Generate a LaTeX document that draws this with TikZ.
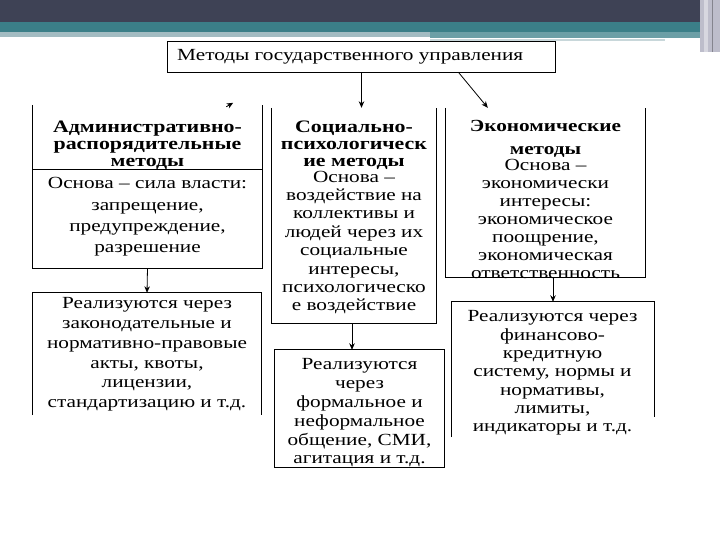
\documentclass[tikz,border=0pt]{standalone}
\usepackage{fontspec}
\setmainfont{Liberation Serif}[FakeStretch=1.25]
\usetikzlibrary{arrows.meta,fit,calc}
\definecolor{bardark}{HTML}{3E4255}
\definecolor{barteal}{HTML}{3B7F88}
\definecolor{barlight}{HTML}{A3BCC2}
\definecolor{barside}{HTML}{BDBDCB}
\tikzset{
  area/.style={inner sep=0pt, draw=none},
  edge/.style={line width=1pt, draw=black},
  arr/.style={line width=0.8pt, -{Stealth[length=6.5pt,width=5.5pt]}},
  txt/.style={align=center, inner sep=0pt, text=black},
  hdr/.style={txt, font=\bfseries\fontsize{17.5}{17}\selectfont},
}
\begin{document}
\begin{tikzpicture}[x=1pt,y=-1pt]
\useasboundingbox (0,0) rectangle (720,540);
\fill[white] (0,0) rectangle (720,540);
% top decoration
\fill[bardark] (0,0) rectangle (720,22);
\fill[barteal] (0,22) rectangle (700,32);
\fill[barlight] (0,32) rectangle (430,37);
\fill[barteal!75!white] (430,32) rectangle (700,38);
\fill[barlight!60!white] (430,39) rectangle (665,41);
\fill[barside] (700,0) rectangle (720,52);
\fill[barside!60!white] (704,0) rectangle (708,52);
\fill[barside!70!black] (712,0) rectangle (713,52);

% corner coordinates
\coordinate (tnw) at (168,42);  \coordinate (tse) at (555,72);
\coordinate (a1nw) at (33,105); \coordinate (a1se) at (262,268);
\coordinate (a2nw) at (33,293); \coordinate (a2se) at (261,415);
\coordinate (b1nw) at (272,108);\coordinate (b1se) at (436,323);
\coordinate (b2nw) at (275,350);\coordinate (b2se) at (444,467);
\coordinate (c1nw) at (446,108);\coordinate (c1se) at (645,277);
\coordinate (c2nw) at (452,302);\coordinate (c2se) at (654,417);

\node[area, fit=(tnw)(tse)] (title) {};
\node[area, fit=(a1nw)(a1se)] (a1) {};
\node[area, fit=(a2nw)(a2se)] (a2) {};
\node[area, fit=(b1nw)(b1se)] (b1) {};
\node[area, fit=(b2nw)(b2se)] (b2) {};
\node[area, fit=(c1nw)(c1se)] (c1) {};
\node[area, fit=(c2nw)(c2se)] (c2) {};

% box outlines
\draw[edge] (title.north west) rectangle (title.south east);
\draw[edge] (a1.north west) -- (a1.south west) -- (a1.south east) -- (a1.north east);
\draw[edge] (a1.west |- 0,170) -- (a1.east |- 0,170);
\draw[edge] (a2.south west) -- (a2.north west) -- (a2.north east) -- (a2.south east);
\draw[edge] (b1.north west) -- (b1.south west) -- (b1.south east) -- (b1.north east);
\draw[edge] (b2.north west) rectangle (b2.south east);
\draw[edge] (c1.north west) -- (c1.south west) -- (c1.south east) -- (c1.north east);
\draw[edge] ($(c2.south west)+(0,20)$) -- (c2.north west) -- (c2.north east) -- (c2.south east);

% texts
\node[txt, anchor=west, font=\fontsize{17}{20}\selectfont] (titletext) at (177,57) {Методы государственного управления};

\node[hdr] (a1h) at (147.5,145) {Административно-\\распорядительные\\методы};
\node[txt, font=\fontsize{17}{21.3}\selectfont] (a1t) at (147.5,217) {Основа – сила власти:\\запрещение,\\предупреждение,\\разрешение};
\node[txt, font=\fontsize{17}{19.8}\selectfont] (a2t) at (147,354.5) {Реализуются через\\законодательные и\\нормативно-правовые\\акты, квоты,\\лицензии,\\стандартизацию и т.д.};

\node[hdr] (b1h) at (354,145) {Социально-\\психологическ\\ие методы};
\node[txt, font=\fontsize{17}{18.4}\selectfont] (b1t) at (354,242.5) {Основа –\\воздействие на\\коллективы и\\людей через их\\социальные\\интересы,\\психологическо\\е воздействие};
\node[txt, font=\fontsize{17}{18.8}\selectfont] (b2t) at (359.5,413) {Реализуются\\через\\формальное и\\неформальное\\общение, СМИ,\\агитация и т.д.};

\node[txt, font=\bfseries\fontsize{17}{23}\selectfont] (c1h) at (545.5,138.5) {Экономические\\методы};
\node[txt, font=\fontsize{17}{18}\selectfont] (c1t) at (545.5,219) {Основа –\\экономически\\интересы:\\экономическое\\поощрение,\\экономическая\\ответственность};
\node[txt, font=\fontsize{17}{18.3}\selectfont] (c2t) at (552.5,373) {Реализуются через\\финансово-\\кредитную\\систему, нормы и\\нормативы,\\лимиты,\\индикаторы и т.д.};

% connectors
\draw[arr] (title.south) -- (title.south |- b1.north);
\draw[arr] ($(title.south west)!0.75!(title.south east)$) -- ($(c1.north west)+(42,0)$);
\draw[arr] ($(a1.north east)+(-36,2)$) -- ($(a1.north east)+(-29,-2)$);
\draw[arr] (a1.south) -- (a2.north);
\draw[arr] ($(b1.south)+(-2,0)$) -- ($(b1.south |- b2.north)+(-2,0)$);
\draw[arr] (c2.north |- c1.south) -- (c2.north);
\end{tikzpicture}
\end{document}
